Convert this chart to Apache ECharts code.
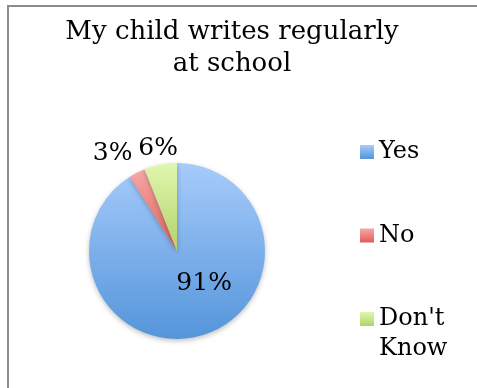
<!DOCTYPE html>
<html>
<head>
<meta charset="utf-8">
<script src="https://cdn.jsdelivr.net/npm/echarts@6/dist/echarts.min.js"></script>
<style>
    html, body { margin: 0; padding: 0; background: #fff; overflow: hidden; }
    #chart { position: absolute; left: 0; top: 0; width: 477px; height: 388px; }
    #frame {
        position: absolute; left: 7px; top: 5px; width: 500px; height: 420px;
        border-left: 2px solid #8c8c8c; border-top: 2px solid #8c8c8c;
        pointer-events: none;
    }
</style>
</head>
<body>
<div id="chart"></div>
<div id="frame"></div>
<script>
// 数据
const categories = ['Yes', 'No', "Don't Know"];
const percentValues = [91, 3, 6];
// 第一行留空，使 "Don't" 与图例色块对齐
const legendLabels = ['Yes', 'No', "\nDon't\nKnow"];

// 渐变色 (上浅下深)
const topColors = ['#a7cbfb', '#f7a8a5', '#e0f7b0'];
const bottomColors = ['#5495da', '#de5d58', '#b2d267'];

// 标签偏移，对应参考图中的位置
const labelOffsets = [[14, -13], [-43, -56], [-10, -56]];

const serif = 'DejaVu Serif';

function makeGradient(i) {
    return new echarts.graphic.LinearGradient(0, 0, 0, 1, [
        {offset: 0, color: topColors[i]},
        {offset: 1, color: bottomColors[i]}
    ]);
}

const pieData = categories.map((name, i) => ({
    name: name,
    value: percentValues[i],
    itemStyle: {color: makeGradient(i)},
    label: {offset: labelOffsets[i]}
}));

// 统一各图例项的包围盒高度 (90px)
const legendData = categories.map((name, i) => ({
    name: name,
    textStyle: {padding: i === 2 ? 0 : [30, 0, 30, 0]}
}));

const option = {
    animation: false,
    title: {
        text: 'My child writes regularly\nat school',
        left: 232,
        textAlign: 'center',
        top: 16,
        padding: 0,
        textStyle: {
            fontFamily: serif,
            fontSize: 26,
            fontWeight: 'normal',
            color: '#000',
            lineHeight: 32
        }
    },
    legend: {
        orient: 'vertical',
        left: 360,
        top: 107,
        padding: 0,
        itemGap: -6.5,
        itemWidth: 14,
        itemHeight: 14,
        icon: 'rect',
        formatter: name => legendLabels[categories.indexOf(name)],
        textStyle: {
            fontFamily: serif,
            fontSize: 24,
            color: '#000',
            lineHeight: 30
        },
        data: legendData
    },
    series: [
        {
            type: 'pie',
            center: [177, 251],
            radius: 88,
            startAngle: 90,
            clockwise: true,
            avoidLabelOverlap: false,
            itemStyle: {
                shadowBlur: 5,
                shadowColor: 'rgba(0, 0, 0, 0.25)',
                shadowOffsetY: 2
            },
            label: {
                show: true,
                position: 'inside',
                formatter: '{c}%',
                fontFamily: serif,
                fontSize: 25,
                color: '#000'
            },
            labelLine: {show: false},
            emphasis: {disabled: true},
            data: pieData
        }
    ]
};

const chart = echarts.init(document.getElementById('chart'));
chart.setOption(option);
</script>
</body>
</html>
